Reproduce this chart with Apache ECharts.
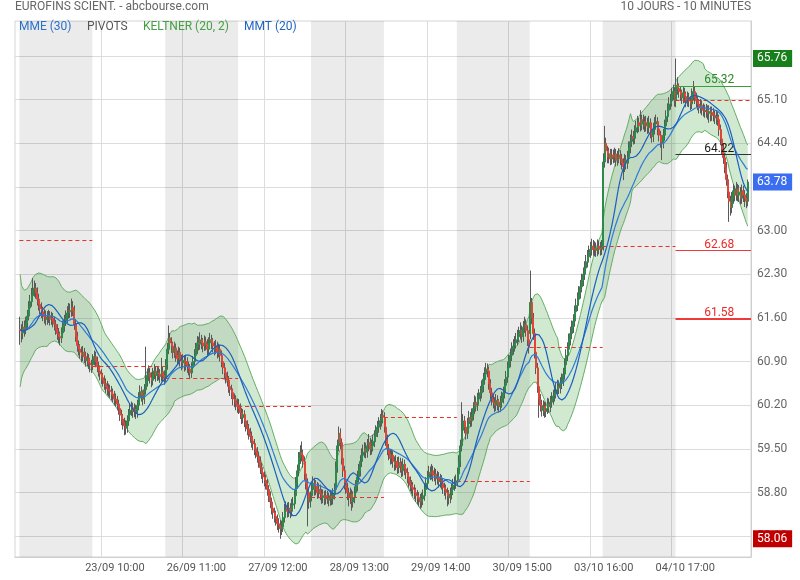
<!DOCTYPE html>
<html><head><meta charset="utf-8">
<script src="https://cdn.jsdelivr.net/npm/echarts@6/dist/echarts.min.js"></script>
<style>html,body{margin:0;padding:0;background:#fff}#c{width:800px;height:580px}</style>
</head><body><div id="c"></div>
<script>
// ---- DATA (10-minute bars, 10 days x 51 bars) ----
const openP = [
61.42,61.40,61.36,61.45,61.42,61.52,61.63,61.76,61.86,61.96,62.05,62.08,62.00,61.90,61.82,61.75,61.70,61.66,61.62,61.58,61.61,61.63,61.58,61.60,61.55,61.50,61.42,61.35,61.30,61.28,61.36,61.46,61.55,61.60,61.68,61.72,61.70,61.77,61.73,61.50,61.30,61.16,61.10,61.05,61.00,61.05,60.98,60.92,60.95,60.88,60.85,
60.85,60.92,60.98,60.90,60.82,60.75,60.70,60.64,60.60,60.55,60.50,60.46,60.44,60.42,60.38,60.35,60.30,60.28,60.22,60.15,60.05,59.98,59.92,59.87,59.84,59.95,60.05,60.12,60.16,60.10,60.14,60.08,60.20,60.32,60.42,60.36,60.30,60.45,60.58,60.68,60.72,60.65,60.60,60.70,60.75,60.68,60.72,60.70,60.66,60.74,60.68,
60.65,60.85,61.10,61.28,61.20,61.15,61.05,61.12,61.00,60.95,61.05,60.92,60.88,60.92,60.85,60.90,60.82,60.78,60.72,60.80,60.90,61.00,61.10,61.20,61.18,61.25,61.20,61.15,61.22,61.18,61.10,61.20,61.25,61.20,61.15,61.10,61.15,61.05,61.10,61.00,60.90,60.80,60.72,60.65,60.60,60.50,60.45,60.40,60.30,60.28,60.22,
60.20,60.15,60.08,60.00,60.05,59.95,59.88,59.82,59.75,59.70,59.62,59.58,59.50,59.45,59.38,59.30,59.20,59.12,59.05,59.00,58.95,58.85,58.75,58.65,58.55,58.48,58.42,58.38,58.30,58.28,58.22,58.25,58.40,58.52,58.55,58.50,58.55,58.50,58.60,58.62,58.75,58.95,59.15,59.35,59.45,59.40,59.30,59.10,58.95,58.80,58.65,
58.75,58.85,58.95,58.85,58.90,58.80,58.85,58.78,58.72,58.75,58.70,58.75,58.72,58.68,58.75,58.70,58.78,58.85,59.20,59.55,59.75,59.60,59.35,59.15,58.95,58.88,58.80,58.72,58.78,58.65,58.72,58.80,58.90,59.05,59.15,59.30,59.40,59.45,59.50,59.45,59.55,59.60,59.50,59.55,59.62,59.70,59.78,59.85,59.90,59.95,60.04,
60.00,59.85,59.65,59.50,59.42,59.35,59.40,59.30,59.25,59.30,59.20,59.28,59.22,59.15,59.25,59.18,59.12,59.05,58.98,58.92,58.88,58.85,58.80,58.75,58.72,58.70,58.65,58.70,58.75,58.85,58.95,59.05,59.12,59.10,59.15,59.08,59.10,59.02,59.05,58.98,59.00,58.95,58.88,58.85,58.80,58.75,58.72,58.78,58.85,58.92,58.95,
59.00,59.10,59.30,59.55,59.80,59.95,59.85,59.75,59.90,60.00,59.95,60.05,60.15,60.25,60.20,60.30,60.35,60.40,60.50,60.62,60.70,60.78,60.75,60.55,60.40,60.30,60.25,60.20,60.28,60.22,60.18,60.25,60.32,60.40,60.52,60.65,60.80,60.90,61.00,61.10,61.15,61.20,61.25,61.30,61.35,61.40,61.30,61.45,61.50,61.40,61.25,
61.35,61.85,61.60,61.35,61.05,60.80,60.50,60.30,60.20,60.12,60.18,60.10,60.15,60.22,60.18,60.25,60.30,60.35,60.40,60.45,60.50,60.48,60.55,60.60,60.70,60.85,61.00,61.10,61.25,61.35,61.45,61.55,61.70,61.80,61.90,62.00,62.10,62.20,62.30,62.40,62.50,62.58,62.65,62.70,62.75,62.70,62.72,62.68,62.75,62.72,62.70,
62.75,64.10,64.40,64.28,64.18,64.23,64.15,64.21,64.18,64.23,64.13,64.18,64.21,64.15,64.08,64.03,64.13,64.08,64.18,64.33,64.43,64.51,64.48,64.58,64.65,64.73,64.68,64.78,64.71,64.75,64.68,64.73,64.65,64.73,64.58,64.51,64.63,64.71,64.75,64.63,64.53,64.43,64.41,64.53,64.68,64.83,64.93,65.03,65.08,65.18,65.23,
65.09,65.33,65.28,65.23,65.18,65.13,65.21,65.15,65.08,65.13,65.08,65.03,65.18,65.23,65.13,65.08,65.03,64.98,65.01,64.95,64.93,64.91,64.93,64.88,64.91,64.85,64.89,64.85,64.81,64.83,64.78,64.62,64.47,64.32,64.17,64.02,63.82,63.62,63.47,63.37,63.52,63.64,63.57,63.67,63.57,63.62,63.52,63.64,63.57,63.52,63.47
];
const closeP = [
61.40,61.36,61.45,61.42,61.52,61.63,61.76,61.86,61.96,62.05,62.08,62.00,61.90,61.82,61.75,61.70,61.66,61.62,61.58,61.61,61.63,61.58,61.60,61.55,61.50,61.42,61.35,61.30,61.28,61.36,61.46,61.55,61.60,61.68,61.72,61.70,61.77,61.73,61.50,61.30,61.16,61.10,61.05,61.00,61.05,60.98,60.92,60.95,60.88,60.85,60.82,
60.92,60.98,60.90,60.82,60.75,60.70,60.64,60.60,60.55,60.50,60.46,60.44,60.42,60.38,60.35,60.30,60.28,60.22,60.15,60.05,59.98,59.92,59.87,59.84,59.95,60.05,60.12,60.16,60.10,60.14,60.08,60.20,60.32,60.42,60.36,60.30,60.45,60.58,60.68,60.72,60.65,60.60,60.70,60.75,60.68,60.72,60.70,60.66,60.74,60.68,60.63,
60.85,61.10,61.28,61.20,61.15,61.05,61.12,61.00,60.95,61.05,60.92,60.88,60.92,60.85,60.90,60.82,60.78,60.72,60.80,60.90,61.00,61.10,61.20,61.18,61.25,61.20,61.15,61.22,61.18,61.10,61.20,61.25,61.20,61.15,61.10,61.15,61.05,61.10,61.00,60.90,60.80,60.72,60.65,60.60,60.50,60.45,60.40,60.30,60.28,60.22,60.18,
60.15,60.08,60.00,60.05,59.95,59.88,59.82,59.75,59.70,59.62,59.58,59.50,59.45,59.38,59.30,59.20,59.12,59.05,59.00,58.95,58.85,58.75,58.65,58.55,58.48,58.42,58.38,58.30,58.28,58.22,58.25,58.40,58.52,58.55,58.50,58.55,58.50,58.60,58.62,58.75,58.95,59.15,59.35,59.45,59.40,59.30,59.10,58.95,58.80,58.65,58.72,
58.85,58.95,58.85,58.90,58.80,58.85,58.78,58.72,58.75,58.70,58.75,58.72,58.68,58.75,58.70,58.78,58.85,59.20,59.55,59.75,59.60,59.35,59.15,58.95,58.88,58.80,58.72,58.78,58.65,58.72,58.80,58.90,59.05,59.15,59.30,59.40,59.45,59.50,59.45,59.55,59.60,59.50,59.55,59.62,59.70,59.78,59.85,59.90,59.95,60.04,60.01,
59.85,59.65,59.50,59.42,59.35,59.40,59.30,59.25,59.30,59.20,59.28,59.22,59.15,59.25,59.18,59.12,59.05,58.98,58.92,58.88,58.85,58.80,58.75,58.72,58.70,58.65,58.70,58.75,58.85,58.95,59.05,59.12,59.10,59.15,59.08,59.10,59.02,59.05,58.98,59.00,58.95,58.88,58.85,58.80,58.75,58.72,58.78,58.85,58.92,58.95,58.99,
59.10,59.30,59.55,59.80,59.95,59.85,59.75,59.90,60.00,59.95,60.05,60.15,60.25,60.20,60.30,60.35,60.40,60.50,60.62,60.70,60.78,60.75,60.55,60.40,60.30,60.25,60.20,60.28,60.22,60.18,60.25,60.32,60.40,60.52,60.65,60.80,60.90,61.00,61.10,61.15,61.20,61.25,61.30,61.35,61.40,61.30,61.45,61.50,61.40,61.25,61.13,
61.85,61.60,61.35,61.05,60.80,60.50,60.30,60.20,60.12,60.18,60.10,60.15,60.22,60.18,60.25,60.30,60.35,60.40,60.45,60.50,60.48,60.55,60.60,60.70,60.85,61.00,61.10,61.25,61.35,61.45,61.55,61.70,61.80,61.90,62.00,62.10,62.20,62.30,62.40,62.50,62.58,62.65,62.70,62.75,62.70,62.72,62.68,62.75,62.72,62.70,62.75,
64.10,64.40,64.28,64.18,64.23,64.15,64.21,64.18,64.23,64.13,64.18,64.21,64.15,64.08,64.03,64.13,64.08,64.18,64.33,64.43,64.51,64.48,64.58,64.65,64.73,64.68,64.78,64.71,64.75,64.68,64.73,64.65,64.73,64.58,64.51,64.63,64.71,64.75,64.63,64.53,64.43,64.41,64.53,64.68,64.83,64.93,65.03,65.08,65.18,65.23,65.09,
65.33,65.28,65.23,65.18,65.13,65.21,65.15,65.08,65.13,65.08,65.03,65.18,65.23,65.13,65.08,65.03,64.98,65.01,64.95,64.93,64.91,64.93,64.88,64.91,64.85,64.89,64.85,64.81,64.83,64.78,64.62,64.47,64.32,64.17,64.02,63.82,63.62,63.47,63.37,63.52,63.64,63.57,63.67,63.57,63.62,63.52,63.64,63.57,63.52,63.47,63.78
];
const highP = [
61.62,61.50,61.55,61.56,61.62,61.73,61.87,61.97,62.08,62.24,62.20,62.16,62.09,61.99,61.90,61.85,61.78,61.74,61.72,61.71,61.73,61.71,61.70,61.68,61.62,61.57,61.50,61.44,61.38,61.45,61.56,61.65,61.72,61.79,61.84,61.83,61.91,61.87,61.80,61.58,61.38,61.24,61.18,61.14,61.15,61.12,61.06,61.04,61.02,60.96,60.93,
61.02,61.08,61.06,60.98,60.90,60.84,60.78,60.72,60.68,60.63,60.59,60.55,60.53,60.51,60.47,60.43,60.39,60.35,60.29,60.22,60.13,60.06,60.00,59.96,60.04,60.14,60.22,60.26,60.24,60.23,60.21,60.29,60.41,60.52,60.50,60.44,60.54,61.14,60.79,60.84,60.80,60.73,60.80,60.86,60.83,60.82,60.81,60.78,60.96,60.82,60.76,
60.94,61.20,61.48,61.36,61.29,61.22,61.22,61.19,61.08,61.14,61.12,61.01,61.02,61.00,60.99,60.97,60.90,60.86,60.89,60.99,61.10,61.20,61.31,61.30,61.37,61.33,61.28,61.32,61.30,61.26,61.29,61.36,61.33,61.28,61.23,61.25,61.22,61.19,61.17,61.08,60.98,60.88,60.80,60.74,60.67,60.59,60.53,60.47,60.39,60.36,60.31,
60.30,60.23,60.16,60.14,60.12,60.03,59.96,59.90,59.84,59.78,59.71,59.66,59.59,59.53,59.46,59.38,59.28,59.20,59.14,59.09,59.02,58.92,58.82,58.72,58.63,58.56,58.51,58.45,58.39,58.36,58.35,58.49,58.62,58.66,58.64,58.65,58.63,58.70,58.73,58.84,59.05,59.25,59.45,59.56,59.62,59.49,59.38,59.18,59.03,58.88,58.82,
58.96,59.06,59.03,59.00,58.97,58.95,58.93,58.86,58.85,58.83,58.84,58.83,58.80,58.84,58.82,58.87,58.95,59.30,59.65,59.86,59.83,59.67,59.42,59.23,59.03,58.96,58.88,58.88,58.85,58.82,58.90,59.00,59.15,59.26,59.40,59.51,59.57,59.61,59.60,59.66,59.74,59.68,59.65,59.73,59.80,59.88,59.95,60.01,60.06,60.14,60.12,
60.09,59.92,59.73,59.58,59.50,59.50,59.47,59.38,59.40,59.37,59.38,59.36,59.30,59.35,59.33,59.26,59.20,59.13,59.06,59.00,58.97,58.93,58.88,58.84,58.81,58.78,58.80,58.85,58.95,59.05,59.15,59.23,59.22,59.26,59.23,59.20,59.18,59.15,59.13,59.10,59.08,59.03,58.96,58.93,58.88,58.84,58.88,58.95,59.02,59.06,59.09,
59.20,59.40,59.65,60.25,60.06,60.03,59.93,60.00,60.11,60.09,60.15,60.25,60.36,60.34,60.40,60.46,60.51,60.60,60.72,60.81,60.88,60.87,60.82,60.62,60.48,60.38,60.33,60.38,60.36,60.30,60.35,60.42,60.50,60.62,60.75,60.90,61.01,61.11,61.21,61.26,61.31,61.36,61.41,61.46,61.53,61.48,61.55,61.62,61.58,61.48,61.33,
62.36,61.92,61.68,61.43,61.13,60.88,60.58,60.38,60.29,60.28,60.26,60.25,60.32,60.31,60.35,60.41,60.45,60.51,60.56,60.61,60.60,60.65,60.71,60.80,60.95,61.10,61.21,61.35,61.46,61.56,61.66,61.80,61.91,62.01,62.11,62.21,62.31,62.41,62.51,62.61,62.69,62.76,62.82,62.87,62.85,62.83,62.81,62.86,62.84,62.82,62.85,
64.24,64.68,64.49,64.36,64.33,64.31,64.31,64.30,64.33,64.31,64.28,64.32,64.29,64.23,64.16,64.23,64.21,64.28,64.43,64.54,64.62,64.60,64.69,64.76,64.84,64.81,64.93,64.86,64.86,64.83,64.84,64.81,64.84,64.80,64.66,64.73,64.82,64.86,64.82,64.70,64.60,64.52,64.63,64.78,64.93,65.04,65.14,65.19,65.29,65.34,65.30,
65.76,65.46,65.36,65.31,65.26,65.31,65.29,65.23,65.23,65.21,65.16,65.28,65.40,65.31,65.21,65.16,65.11,65.11,65.09,65.04,65.02,65.03,65.01,65.01,64.99,64.99,64.97,64.93,64.93,64.91,64.86,64.70,64.55,64.40,64.25,64.10,63.90,63.70,63.56,63.62,63.75,63.72,63.78,63.75,63.73,63.70,63.74,63.72,63.65,63.60,63.82
];
const lowP = [
61.17,61.21,61.26,61.30,61.34,61.44,61.56,61.68,61.78,61.88,61.94,61.91,61.80,61.72,61.66,61.60,61.55,61.51,61.48,61.49,61.52,61.48,61.49,61.45,61.40,61.33,61.25,61.20,61.16,61.20,61.29,61.38,61.47,61.52,61.59,61.60,61.62,61.63,61.41,61.22,61.06,61.00,60.95,60.89,60.91,60.88,60.82,60.83,60.78,60.73,60.72,
60.76,60.84,60.81,60.73,60.66,60.60,60.54,60.50,60.45,60.40,60.36,60.34,60.32,60.28,60.25,60.20,60.18,60.12,60.05,59.95,59.88,59.81,59.72,59.73,59.76,59.87,59.97,60.03,60.00,60.01,59.98,60.00,60.12,60.24,60.26,60.20,60.22,60.37,60.50,60.59,60.55,60.49,60.52,60.62,60.58,60.59,60.60,60.56,60.58,60.58,60.53,
60.56,60.77,61.02,61.10,61.04,60.95,60.96,60.90,60.84,60.86,60.82,60.76,60.79,60.74,60.76,60.72,60.68,60.62,60.64,60.72,60.82,60.92,61.02,61.08,61.09,61.10,61.05,61.07,61.08,61.00,61.02,61.12,61.10,61.05,61.00,61.02,60.95,60.97,60.90,60.81,60.70,60.62,60.55,60.50,60.40,60.35,60.30,60.20,60.17,60.12,60.08,
60.06,59.98,59.90,59.91,59.85,59.78,59.72,59.65,59.60,59.52,59.48,59.40,59.35,59.28,59.20,59.10,59.02,58.95,58.90,58.85,58.75,58.65,58.55,58.45,58.38,58.32,58.27,58.20,58.16,58.06,58.12,58.17,58.32,58.43,58.40,58.41,58.39,58.42,58.51,58.54,58.67,58.86,59.06,59.26,59.30,59.20,59.00,58.85,58.26,58.54,58.56,
58.66,58.76,58.75,58.76,58.70,58.71,58.68,58.62,58.63,58.60,58.61,58.62,58.58,58.59,58.60,58.61,58.69,58.77,59.12,59.46,59.50,59.25,59.05,58.85,58.78,58.68,58.58,58.62,58.51,58.56,58.63,58.72,58.82,58.96,59.06,59.21,59.31,59.36,59.35,59.36,59.46,59.40,59.41,59.46,59.53,59.61,59.69,59.76,59.81,59.86,59.91,
59.76,59.55,59.40,59.32,59.25,59.26,59.20,59.15,59.16,59.10,59.11,59.12,59.05,59.06,59.08,59.02,58.95,58.88,58.82,58.78,58.74,58.70,58.65,58.61,58.58,58.54,58.56,58.60,58.67,58.76,58.86,58.96,59.00,59.01,58.98,58.98,58.92,58.93,58.88,58.88,58.85,58.78,58.75,58.69,58.58,58.61,58.63,58.69,58.76,58.83,58.86,
58.91,59.01,59.21,59.46,59.71,59.75,59.65,59.66,59.81,59.85,59.86,59.96,60.06,60.10,60.11,60.21,60.26,60.31,60.41,60.53,60.61,60.65,60.45,60.30,60.20,60.15,60.09,60.11,60.12,60.08,60.09,60.16,60.23,60.31,60.43,60.56,60.71,60.81,60.91,61.01,61.06,61.11,61.16,61.21,61.26,61.20,61.22,61.36,61.30,61.15,61.03,
61.26,61.50,61.25,60.95,60.70,60.40,60.00,60.10,60.02,60.03,60.00,60.01,60.06,60.08,60.09,60.16,60.21,60.26,60.31,60.36,60.38,60.39,60.46,60.51,60.61,60.76,60.91,61.01,61.16,61.26,61.36,61.46,61.61,61.71,61.81,61.91,62.01,62.11,62.21,62.31,62.41,62.49,62.56,62.60,62.60,62.59,62.58,62.59,62.62,62.60,62.61,
62.68,64.01,64.18,64.08,64.08,64.05,64.06,64.08,64.09,64.03,64.04,64.08,64.05,63.98,63.81,63.94,63.98,63.99,64.09,64.24,64.34,64.38,64.39,64.49,64.56,64.58,64.59,64.61,64.62,64.58,64.59,64.55,64.56,64.48,64.41,64.42,64.54,64.62,64.53,64.43,64.33,64.13,64.32,64.44,64.59,64.74,64.84,64.94,64.99,65.09,64.99,
64.98,65.18,65.13,65.08,65.03,65.04,65.05,64.98,64.99,64.98,64.93,64.95,65.09,65.03,64.98,64.93,64.88,64.88,64.85,64.83,64.81,64.81,64.78,64.73,64.75,64.76,64.75,64.71,64.70,64.68,64.52,64.37,64.22,64.07,63.92,63.72,63.52,63.14,63.24,63.28,63.43,63.47,63.48,63.47,63.46,63.42,63.43,63.46,63.38,63.36,63.39
];
const dayStartBar = [0, 51, 102, 153, 204, 255, 306, 357, 408, 459];
const barsPerDay = 51;
const prevClose = [62.85, 60.82, 60.63, 60.18, 58.72, 60.01, 58.99, 61.13, 62.75, 65.09];
const pivotLevels = [65.32, 64.22, 62.68, 61.58];
const xTickBars = [57, 114, 171, 228, 285, 342, 399, 456];
const xTickLabels = ['23/09 10:00', '26/09 11:00', '27/09 12:00', '28/09 13:00', '29/09 14:00', '30/09 15:00', '03/10 16:00', '04/10 17:00'];
const yTickLabels = ['58.10', '58.80', '59.50', '60.20', '60.90', '61.60', '62.30', '63.00', '63.70', '64.40', '65.10', '65.80'];

// ---- axes extents ----
const xMin = -3.58, xMax = 511.3;
const yMin = 57.768, yMax = 66.361;

// ---- indicators derived from the bars ----
function sma(src, n) {
  const out = []; let sum = 0;
  for (let i = 0; i < src.length; i++) {
    sum += src[i]; if (i >= n) sum -= src[i - n];
    out.push(sum / Math.min(i + 1, n));
  }
  return out;
}
function ema(src, n) {
  const k = 2 / (n + 1); const out = []; let e = src[0];
  for (let i = 0; i < src.length; i++) { e = i === 0 ? src[0] : src[i] * k + e * (1 - k); out.push(e); }
  return out;
}
const N = closeP.length;
const mme30 = ema(closeP, 30);
const mmt20 = sma(sma(closeP, 10), 11);
const typical = closeP.map((c, i) => (highP[i] + lowP[i] + c) / 3);
const kMid = sma(typical, 20);
const kRange = sma(highP.map((h, i) => h - lowP[i]), 20);
const kUpper = kMid.map((m, i) => m + 2 * kRange[i]);
const kLower = kMid.map((m, i) => m - 2 * kRange[i]);
const pair = arr => arr.map((v, i) => [i, v]);

const xTickPos = xTickBars.map(b => b - 0.5);
const yTickVals = yTickLabels.map(Number);
const maxHigh = Math.max(...highP), minLow = Math.min(...lowP), lastClose = closeP[N - 1];

const grayDays = [0, 2, 4, 6, 8].map(d => [{ xAxis: dayStartBar[d] - 0.5 }, { xAxis: dayStartBar[d] + barsPerDay - 0.5 }]);
const dashLines = prevClose.map((v, d) => [
  { coord: [dayStartBar[d] - 0.5, v], lineStyle: { color: '#e8302c', width: 1, type: [4, 3] }, label: { show: false } },
  { coord: [d === 9 ? xMax : dayStartBar[d] + barsPerDay - 0.5, v] }
]);
const pivotStyles = [
  { line: '#3c9c3c', text: '#2a8a2a', w: 1 },
  { line: '#333333', text: '#1a1a1a', w: 1 },
  { line: '#f03a3a', text: '#ec2828', w: 1 },
  { line: '#f03a3a', text: '#ec2828', w: 2 }
];
const pivotLines = pivotLevels.map((v, k) => [
  { coord: [dayStartBar[9] - 0.5, v], lineStyle: { color: pivotStyles[k].line, width: pivotStyles[k].w, type: 'solid' },
    label: { show: true, position: 'insideMiddleTop', formatter: v.toFixed(2), color: pivotStyles[k].text, fontSize: 12, fontFamily: 'Roboto', padding: [0, 0, 0, 12], distance: 0 } },
  { coord: [xMax, v] }
]);
const boxLabel = (bg) => ({ show: true, position: 'end', distance: 2, color: '#fff', backgroundColor: bg, padding: [3, 5, 2, 4], fontSize: 12, fontFamily: 'Roboto', formatter: p => p.value.toFixed(2) });

const chart = echarts.init(document.getElementById('c'));
chart.setOption({
  animation: false,
  backgroundColor: '#fff',
  textStyle: { fontFamily: 'Roboto' },
  grid: { left: 15, right: 49, top: 21, bottom: 23, show: true, borderColor: '#d4d4d4', borderWidth: 1, containLabel: false, outerBoundsMode: 'none' },
  xAxis: {
    type: 'value', min: xMin, max: xMax,
    axisLine: { show: true, onZero: false, lineStyle: { color: '#cfcfcf' } },
    axisTick: { show: false, customValues: xTickPos },
    axisLabel: {
      customValues: xTickPos, color: '#555', fontSize: 11, margin: 6, padding: [0, 0, 0, 28],
      formatter: v => { let b = 0; xTickPos.forEach((p, k) => { if (Math.abs(p - v) < Math.abs(xTickPos[b] - v)) b = k; }); return xTickLabels[b]; }
    },
    splitLine: { show: true, lineStyle: { color: '#dcdcdc', width: 1 } }
  },
  yAxis: {
    type: 'value', position: 'right', min: yMin, max: yMax,
    axisLine: { show: true, onZero: false, lineStyle: { color: '#cfcfcf' } },
    axisTick: { show: false, customValues: yTickVals },
    axisLabel: { customValues: yTickVals, color: '#666', fontSize: 12, margin: 6, padding: [0, 0, 5, 0], formatter: v => v.toFixed(2) },
    splitLine: { show: true, lineStyle: { color: '#dcdcdc', width: 1 } }
  },
  graphic: [
    { type: 'text', left: 15, top: 1, z: 100, style: { text: 'EUROFINS SCIENT. - abcbourse.com', fill: '#666', font: '12px Roboto' } },
    { type: 'text', right: 49, top: 1, z: 100, style: { text: '10 JOURS - 10 MINUTES', fill: '#666', font: '12px Roboto' } },
    { type: 'text', left: 19, top: 21, z: 100, style: { text: 'MME (30)', fill: '#2a72cc', font: '12px Roboto' } },
    { type: 'text', left: 87, top: 21, z: 100, style: { text: 'PIVOTS', fill: '#555', font: '12px Roboto' } },
    { type: 'text', left: 143, top: 21, z: 100, style: { text: 'KELTNER (20, 2)', fill: '#43a043', font: '12px Roboto' } },
    { type: 'text', left: 244, top: 21, z: 100, style: { text: 'MMT (20)', fill: '#1d63c4', font: '12px Roboto' } }
  ],
  series: [
    { name: 'days', type: 'line', data: [], silent: true, z: 0,
      markArea: { silent: true, itemStyle: { color: 'rgba(0,0,0,0.08)' }, data: grayDays } },
    { name: 'keltnerFill', type: 'custom', silent: true, z: 1, data: [[0, kUpper[0]]], encode: { x: 0, y: 1 },
      renderItem: (params, api) => {
        const pts = [];
        for (let i = 0; i < N; i++) pts.push(api.coord([i, kUpper[i]]));
        for (let i = N - 1; i >= 0; i--) pts.push(api.coord([i, kLower[i]]));
        return { type: 'polygon', shape: { points: pts }, style: { fill: 'rgba(76,165,76,0.26)', stroke: null } };
      } },
    { name: 'kUpper', type: 'line', data: pair(kUpper), symbol: 'none', showSymbol: false, silent: true, lineStyle: { color: '#64ae64', width: 1 }, z: 2 },
    { name: 'kLower', type: 'line', data: pair(kLower), symbol: 'none', showSymbol: false, silent: true, lineStyle: { color: '#64ae64', width: 1 }, z: 2 },
    { name: 'wicks', type: 'candlestick', data: closeP.map((c, i) => [i, openP[i], c, lowP[i], highP[i]]), encode: { x: 0, y: [1, 2, 3, 4] },
      barWidth: 0.01, silent: true, z: 3,
      itemStyle: { color: '#5a5a5a', color0: '#5a5a5a', borderColor: '#5a5a5a', borderColor0: '#5a5a5a', borderColorDoji: '#5a5a5a', borderWidth: 1 } },
    { name: 'bodies', type: 'candlestick', data: closeP.map((c, i) => [i, openP[i], c, Math.min(openP[i], c), Math.max(openP[i], c)]), encode: { x: 0, y: [1, 2, 3, 4] },
      barWidth: 1.5, silent: true, z: 4, clip: false,
      itemStyle: { color: '#2b8b4b', color0: '#e4433a', borderColor: '#2b8b4b', borderColor0: '#e4433a', borderColorDoji: '#777', borderWidth: 1 },
      markLine: { silent: true, symbol: 'none', animation: false, data: [
        { yAxis: maxHigh, lineStyle: { color: 'transparent', width: 0 }, label: boxLabel('#17801a') },
        { yAxis: lastClose, lineStyle: { color: 'transparent', width: 0 }, label: boxLabel('#3a6df0') },
        { yAxis: minLow, lineStyle: { color: 'transparent', width: 0 }, label: boxLabel('#c00000') }
      ] } },
    { name: 'MME (30)', type: 'line', data: pair(mme30), symbol: 'none', showSymbol: false, silent: true, lineStyle: { color: '#2d7bd6', width: 1.2 }, z: 5 },
    { name: 'MMT (20)', type: 'line', data: pair(mmt20), symbol: 'none', showSymbol: false, silent: true, lineStyle: { color: '#1a5fbd', width: 1.2 }, z: 5,
      markLine: { silent: true, symbol: 'none', animation: false, data: dashLines.concat(pivotLines) } }
  ]
});
</script>
</body></html>
